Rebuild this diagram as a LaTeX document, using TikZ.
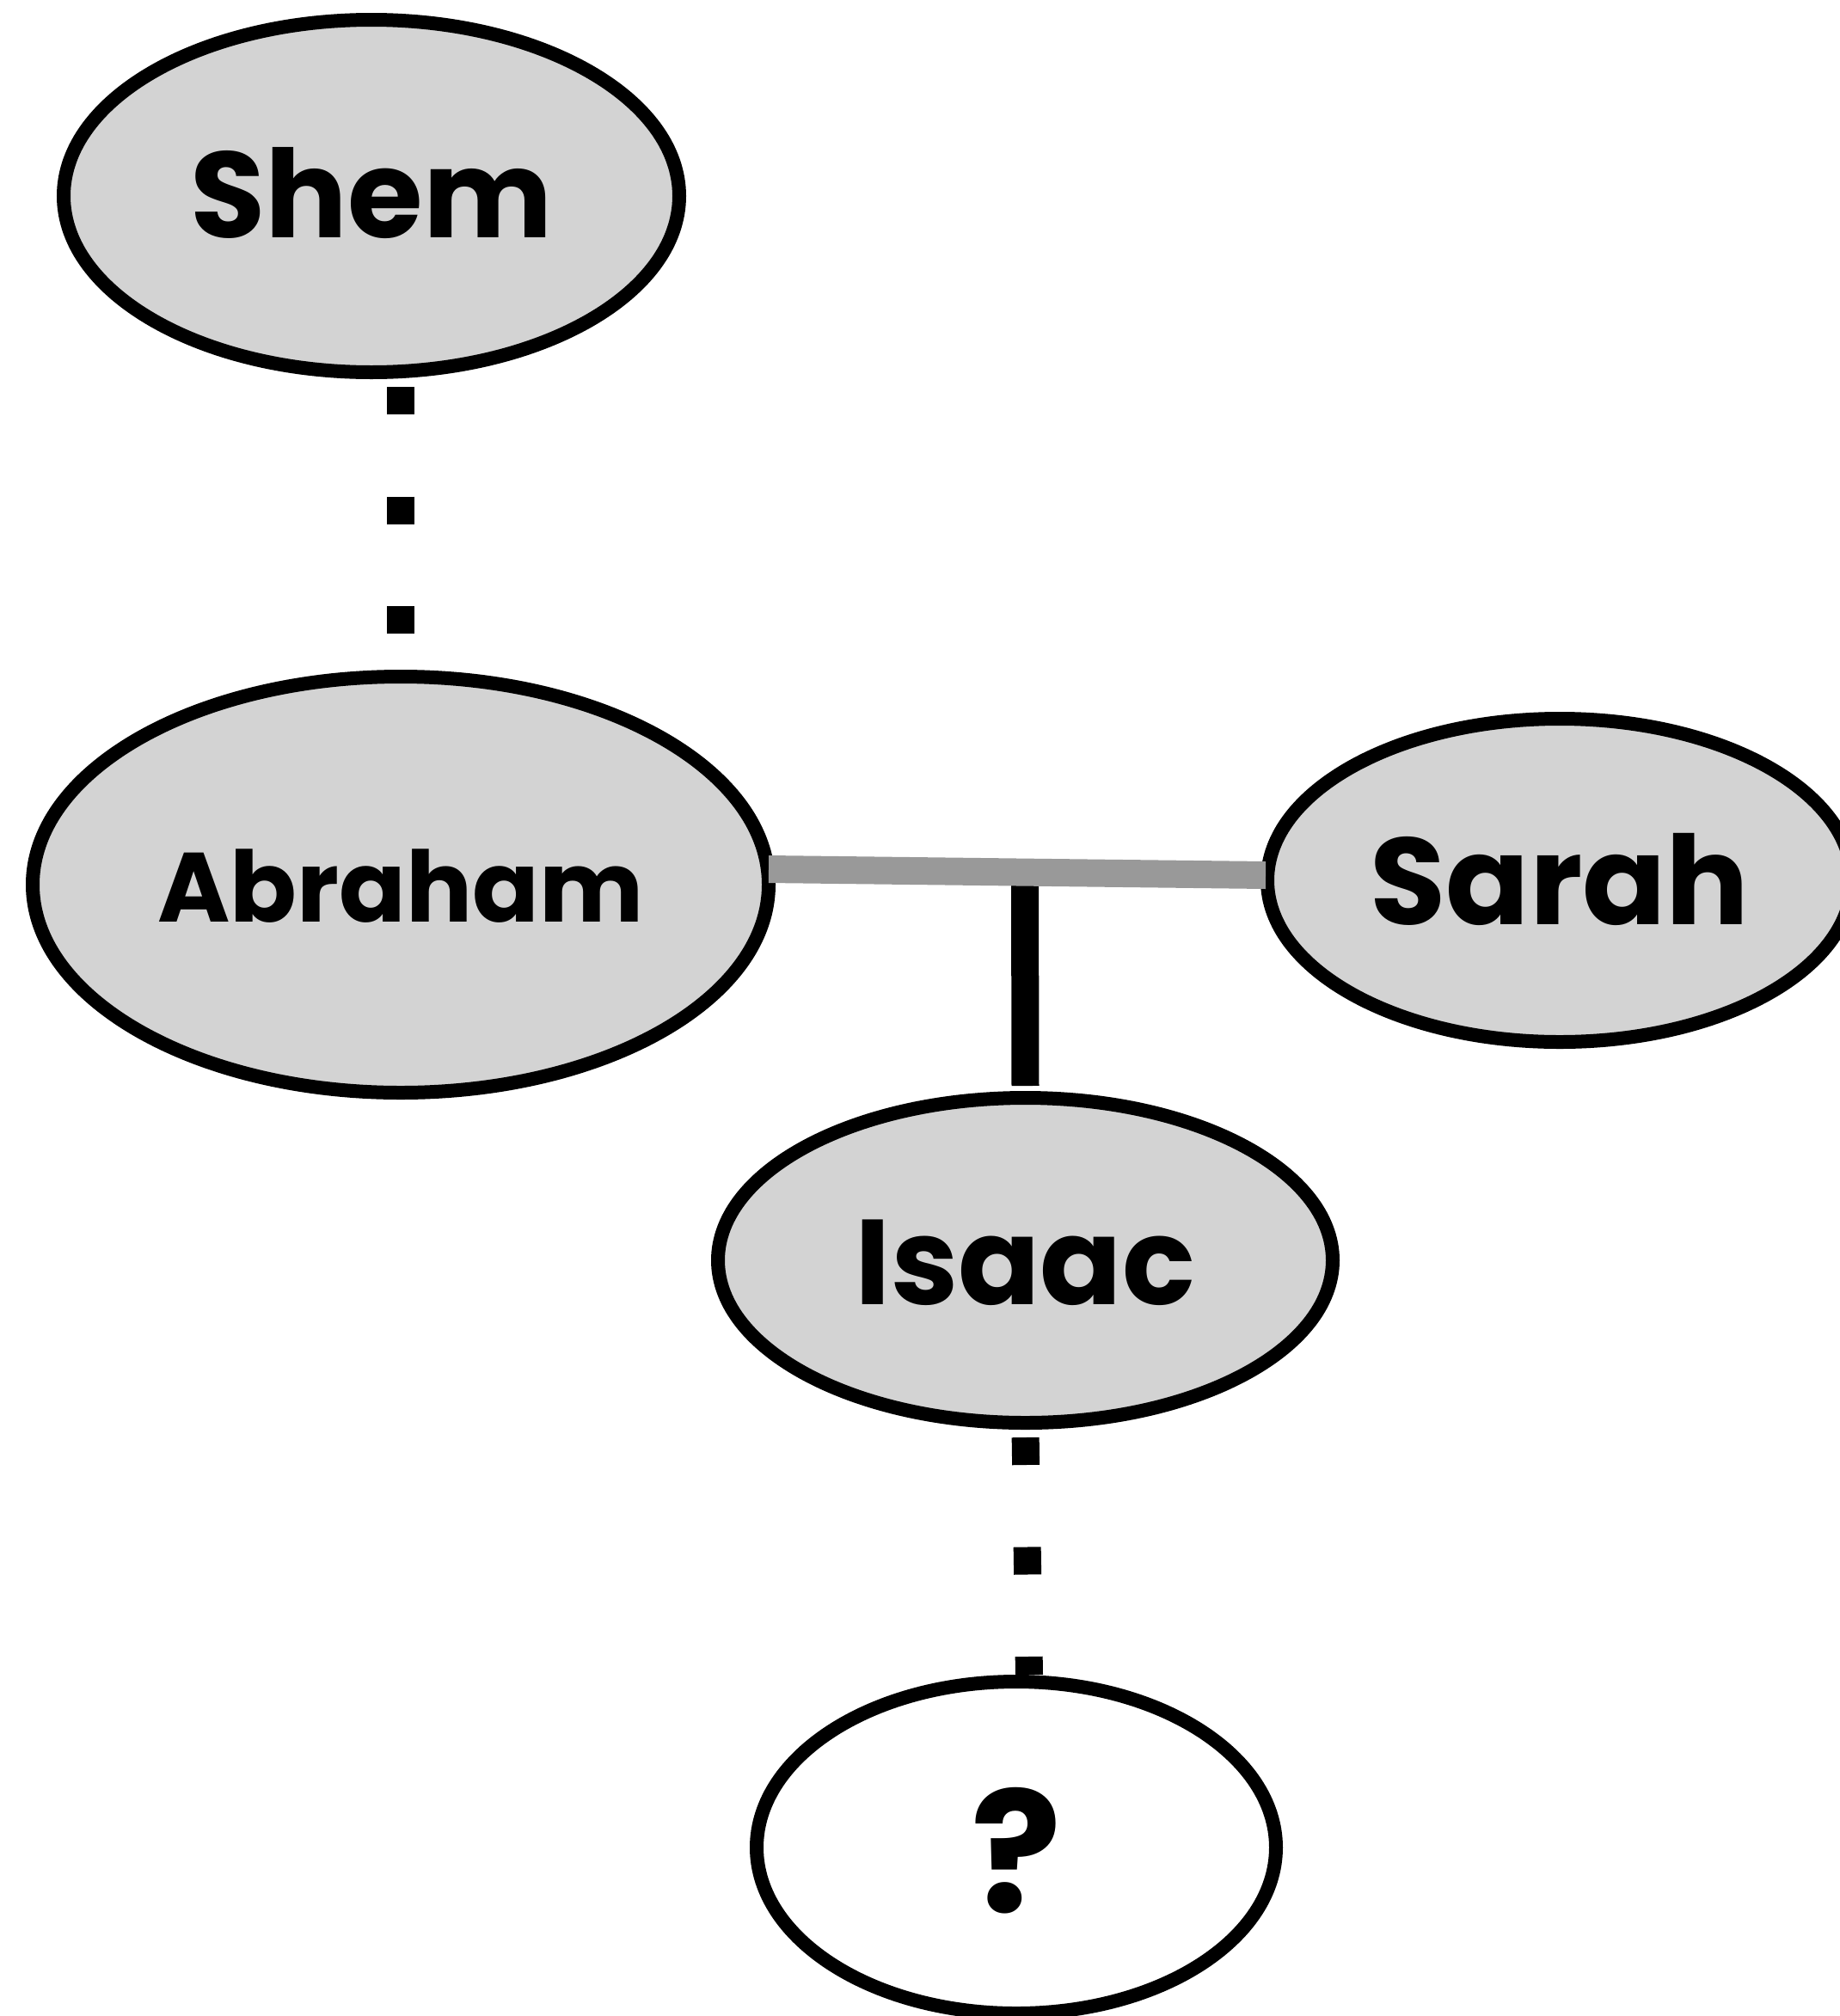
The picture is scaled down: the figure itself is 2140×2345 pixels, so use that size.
\documentclass[tikz,border=0pt]{standalone}
\usepackage{fontspec}
\setmainfont{Poppins}
\usetikzlibrary{shapes.geometric,calc}
\definecolor{fillgray}{HTML}{D3D3D3}
\definecolor{bargray}{HTML}{999999}
\begin{document}
\begin{tikzpicture}[x=1pt,y=-1pt,
  person/.style={ellipse, draw=black, line width=16pt, fill=fillgray, inner sep=0pt, text depth=0pt},
  lbl/.style={font=\bfseries\fontsize{#1}{#1}\selectfont},
  dotline/.style={line width=32pt, dash pattern=on 32pt off 95.5pt},
  marriage/.style={line width=32pt, draw=bargray},
  descent/.style={line width=32pt, draw=black}]
\useasboundingbox (0,0) rectangle (2140,2345);

\node[person, minimum width=716pt, minimum height=410pt, lbl=142, text height=97pt] (shem) at (432,228) {Shem};
\node[person, minimum width=856pt, minimum height=484pt, lbl=114.5, text height=86pt] (abraham) at (466,1029) {Abraham};
\node[person, minimum width=680pt, minimum height=376pt, lbl=143.5, text height=102pt] (sarah) at (1814,1024) {Sarah};
\node[person, minimum width=715pt, minimum height=378pt, lbl=140.5, text height=103pt] (isaac) at (1192.5,1466) {Isaac};
\node[person, fill=white, minimum width=604pt, minimum height=386pt, lbl=196, text height=150pt] (unknown) at (1182,2149) {?};

\coordinate (join) at (1192,1016);
\draw[descent, shorten >=6pt] (join) -- (isaac.north);
\draw[marriage] ([shift={(-8,-18)}]abraham.east) -- ([shift={(6,-6)}]sarah.west);
\draw[dotline, shorten <=9pt] (abraham.north |- shem.south) -- (abraham.north);
\draw[dotline, shorten <=9pt] (isaac.south) -- ([xshift=15pt]unknown.north);
\end{tikzpicture}
\end{document}
